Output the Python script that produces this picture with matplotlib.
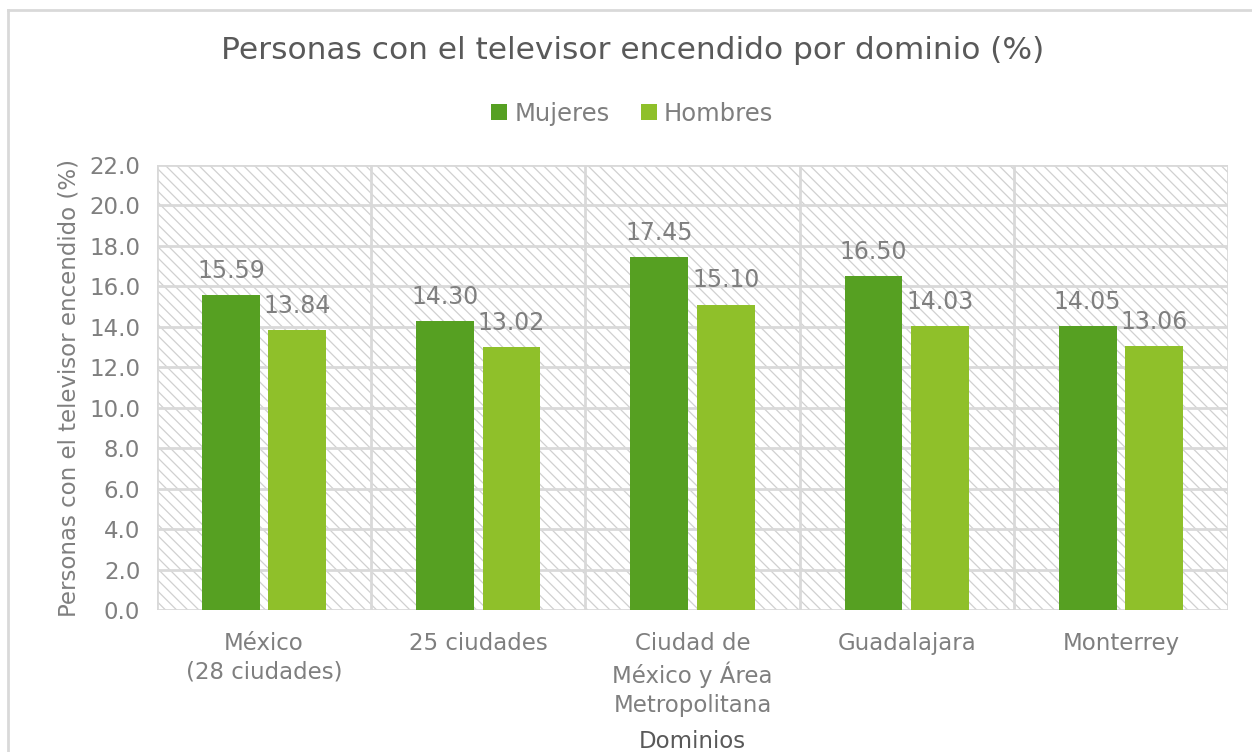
import numpy as np
import matplotlib.pyplot as plt
from matplotlib.patches import Rectangle
from matplotlib.lines import Line2D

# data
dominios = ['México\n(28 ciudades)', '25 ciudades',
            'Ciudad de\nMéxico y Área\nMetropolitana', 'Guadalajara', 'Monterrey']
mujeres = [15.59, 14.30, 17.45, 16.50, 14.05]
hombres = [13.84, 13.02, 15.10, 14.03, 13.06]
yticks = np.arange(0, 22.1, 2.0)

plt.rcParams['font.family'] = ['DejaVu Sans']
GRAY = '#7f7f7f'
GRID = '#d9d9d9'
C_MUJ = '#56a022'
C_HOM = '#8fc02a'

fig = plt.figure(figsize=(12.52, 7.52), dpi=100)
ax = fig.add_axes([0.1254, 0.1888, 0.8554, 0.5918])

# outer chart frame (left and top edges visible)
fig.add_artist(Line2D([0.0064, 0.0064], [0.0, 0.9867], transform=fig.transFigure,
                      color=GRID, lw=2))
fig.add_artist(Line2D([0.0064, 1.0], [0.9867, 0.9867], transform=fig.transFigure,
                      color=GRID, lw=2))

# hatched plot area background
plt.rcParams['hatch.color'] = '#d0d0d0'
plt.rcParams['hatch.linewidth'] = 0.9
ax.add_patch(Rectangle((0, 0), 1, 1, transform=ax.transAxes, facecolor='white',
                       edgecolor='#d0d0d0', hatch='\\\\\\', lw=0, zorder=0))

x = np.arange(len(dominios))
w = 0.27
gap = 0.04
b1 = ax.bar(x - (w + gap) / 2, mujeres, w, color=C_MUJ, label='Mujeres', zorder=3)
b2 = ax.bar(x + (w + gap) / 2, hombres, w, color=C_HOM, label='Hombres', zorder=3)

for bars, vals in ((b1, mujeres), (b2, hombres)):
    for r, v in zip(bars, vals):
        ax.text(r.get_x() + r.get_width() / 2, v + 0.6, f'{v:.2f}', ha='center',
                va='bottom', fontsize=17, color=GRAY, zorder=4)

ax.set_xlim(-0.5, len(dominios) - 0.5)
ax.set_ylim(0, 22)
ax.set_yticks(yticks)
ax.set_yticklabels([f'{t:.1f}' for t in yticks])
for t in yticks:
    ax.axhline(t, color=GRID, lw=2, zorder=1)
for b in np.arange(-0.5, len(dominios), 1.0):
    ax.axvline(b, color=GRID, lw=2, zorder=1)

ax.set_xticks(x)
ax.set_xticklabels(dominios, linespacing=1.3)
ax.tick_params(axis='both', length=0, labelsize=16.5, labelcolor=GRAY)
ax.tick_params(axis='x', pad=16)
ax.tick_params(axis='y', pad=12)
for s in ax.spines.values():
    s.set_visible(False)

ax.set_ylabel('Personas con el televisor encendido (%)', fontsize=16.5, color=GRAY,
              labelpad=6)
ax.set_xlabel('Dominios', fontsize=16.5, color='#595959', labelpad=10)

fig.suptitle('Personas con el televisor encendido por dominio (%)', x=0.505, y=0.952,
             fontsize=22.5, color='#595959')
ax.legend(loc='center', bbox_to_anchor=(0.5, 0.5), bbox_transform=fig.transFigure,
          ncol=2, frameon=False, fontsize=17.5, labelcolor=GRAY, handlelength=0.65,
          handleheight=0.65, handletextpad=0.3, columnspacing=1.3)
ax.get_legend().set_bbox_to_anchor((0.505, 0.849), transform=fig.transFigure)

fig.savefig('out.png', dpi=100)
